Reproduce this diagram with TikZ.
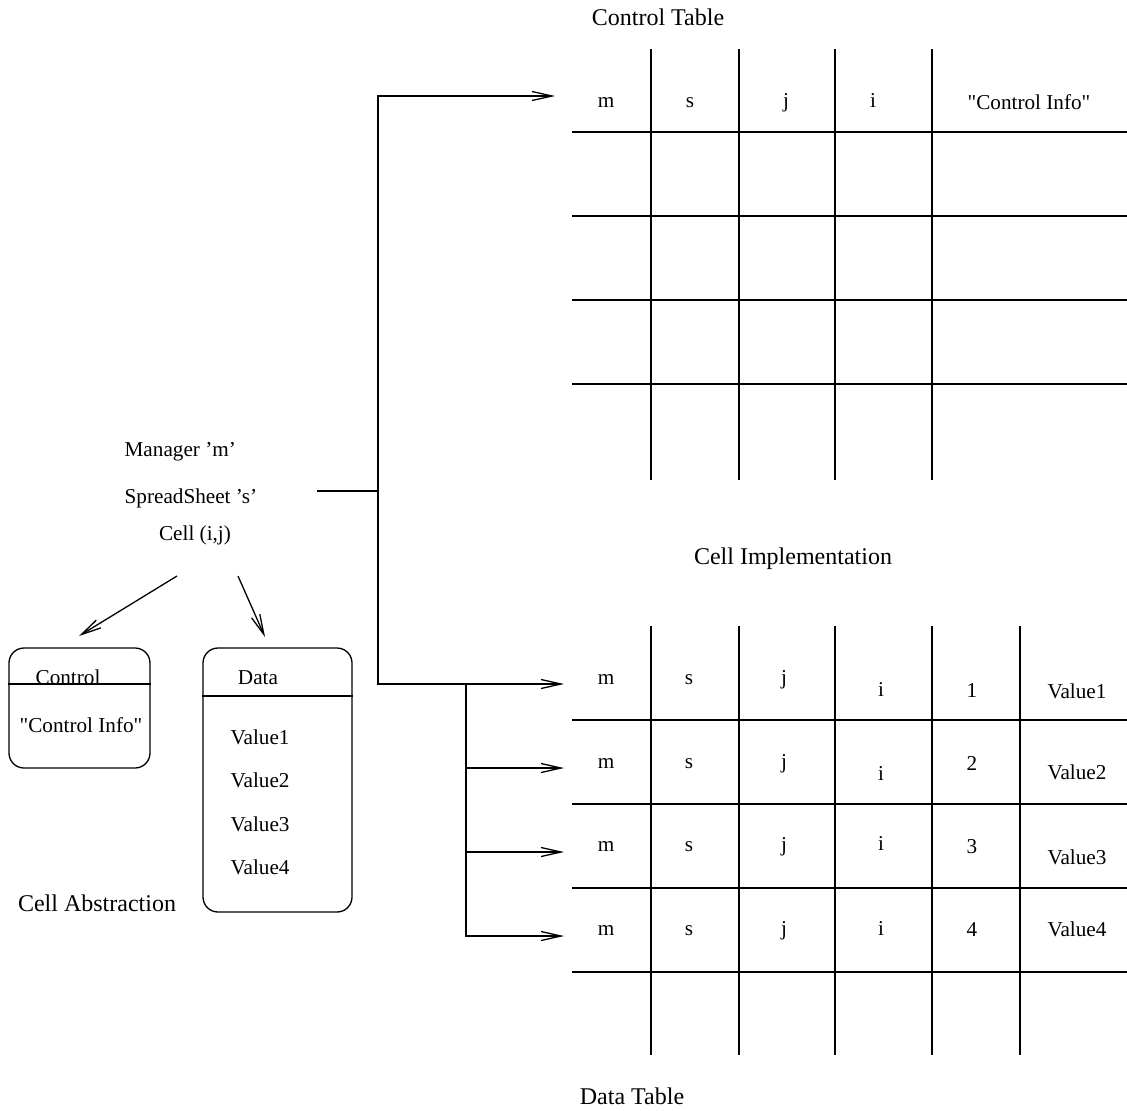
\documentclass[tikz,border=0pt]{standalone}
\usepackage{fontspec}
\setmainfont{Liberation Serif}[Ligatures=TeXOff]
\usetikzlibrary{arrows.meta}

\begin{document}
\begin{tikzpicture}[x=0.5pt, y=-0.5pt, line width=0.65pt,
  ttl/.style={font=\fontsize{12pt}{14pt}\selectfont, inner sep=0pt, anchor=base},
  lbl/.style={font=\fontsize{10.6pt}{12.5pt}\selectfont, inner sep=0pt, anchor=base},
  lblw/.style={lbl, anchor=base west},
  tip/.style={-{Straight Barb[length=10pt, width=4.5pt]}},
  cellbox/.style={draw, rounded corners=7.5pt, inner sep=0pt}]

\useasboundingbox (0,0) rectangle (1127,1110);

% ---------- cell abstraction (left) ----------
\node[lblw] (mgr)  at (124,456) {Manager ’m’};
\node[lblw] (ss)   at (124,503) {SpreadSheet ’s’};
\node[lbl]  (cell) at (195,540) {Cell (i,j)};

\node[cellbox, minimum width=70.5pt, minimum height=60pt] (ctrlbox) at (79.5,708) {};
\node[cellbox, minimum width=74.5pt, minimum height=132pt] (databox) at (277.5,780) {};
\draw (ctrlbox.west |- 0,684) -- (ctrlbox.east |- 0,684);
\draw (databox.west |- 0,696) -- (databox.east |- 0,696);

\node[lbl]  (ctrlttl) at (68,684) {Control};
\node[lbl]  (ctrlinf) at (81,732) {"Control Info"};
\node[lbl]  (datattl) at (258,684) {Data};
\node[lblw] (v1) at (230,744) {Value1};
\node[lblw] (v2) at (230,787) {Value2};
\node[lblw] (v3) at (230,831) {Value3};
\node[lblw] (v4) at (230,874) {Value4};
\node[ttl]  (abs) at (97,911) {Cell Abstraction};

\coordinate (a1s) at (177,576);
\coordinate (a1e) at (79,636);
\coordinate (a2s) at (238,576);
\coordinate (a2e) at (265,637);
\draw[tip] (a1s) -- (a1e);
\draw[tip] (a2s) -- (a2e);

% ---------- control table ----------
\node[ttl] (ctitle) at (658,25) {Control Table};
\foreach \x in {651,739,835,932} \draw (\x,49) -- (\x,480);
\foreach \y in {132,216,300,384} \draw (572,\y) -- (1127,\y);
\node[lbl] (cm) at (606,107) {m};
\node[lbl] (cs) at (690,107) {s};
\node[lbl] (cj) at (786,107) {j};
\node[lbl] (ci) at (873,107) {i};
\node[lbl] (cinfo) at (1029,109) {"Control Info"};

\node[ttl] (impl) at (793,564) {Cell Implementation};

% ---------- data table ----------
\foreach \x in {651,739,835,932,1020} \draw (\x,626) -- (\x,1055);
\foreach \y in {720,804,888,972} \draw (572,\y) -- (1127,\y);
\node[ttl] (dtitle) at (632,1104) {Data Table};

\node[lbl] (m1) at (606,684) {m}; \node[lbl] (s1) at (689,684) {s};
\node[lbl] (j1) at (784,684) {j}; \node[lbl] (i1) at (881,696) {i};
\node[lbl] (n1) at (972,697) {1}; \node[lbl] (w1) at (1077,698) {Value1};

\node[lbl] (m2) at (606,768) {m}; \node[lbl] (s2) at (689,768) {s};
\node[lbl] (j2) at (784,768) {j}; \node[lbl] (i2) at (881,780) {i};
\node[lbl] (n2) at (972,770) {2}; \node[lbl] (w2) at (1077,779) {Value2};

\node[lbl] (m3) at (606,851) {m}; \node[lbl] (s3) at (689,851) {s};
\node[lbl] (j3) at (784,851) {j}; \node[lbl] (i3) at (881,850) {i};
\node[lbl] (n3) at (972,853) {3}; \node[lbl] (w3) at (1077,864) {Value3};

\node[lbl] (m4) at (606,935) {m}; \node[lbl] (s4) at (689,935) {s};
\node[lbl] (j4) at (784,935) {j}; \node[lbl] (i4) at (881,935) {i};
\node[lbl] (n4) at (972,936) {4}; \node[lbl] (w4) at (1077,936) {Value4};

% ---------- connectors ----------
\coordinate (src) at (317,491);
\coordinate (jn)  at (378,491);
\coordinate (cto) at (555,96);
\coordinate (d1)  at (564,684);
\coordinate (d2)  at (564,768);
\coordinate (d3)  at (564,852);
\coordinate (d4)  at (564,936);
\coordinate (br)  at (466,684);

\draw (src) -- (jn);
\draw[tip] (jn) |- (cto);
\draw[tip] (jn) |- (d1);
\draw[tip] (br) |- (d4);
\draw[tip] (br |- d2) -- (d2);
\draw[tip] (br |- d3) -- (d3);
\end{tikzpicture}
\end{document}
